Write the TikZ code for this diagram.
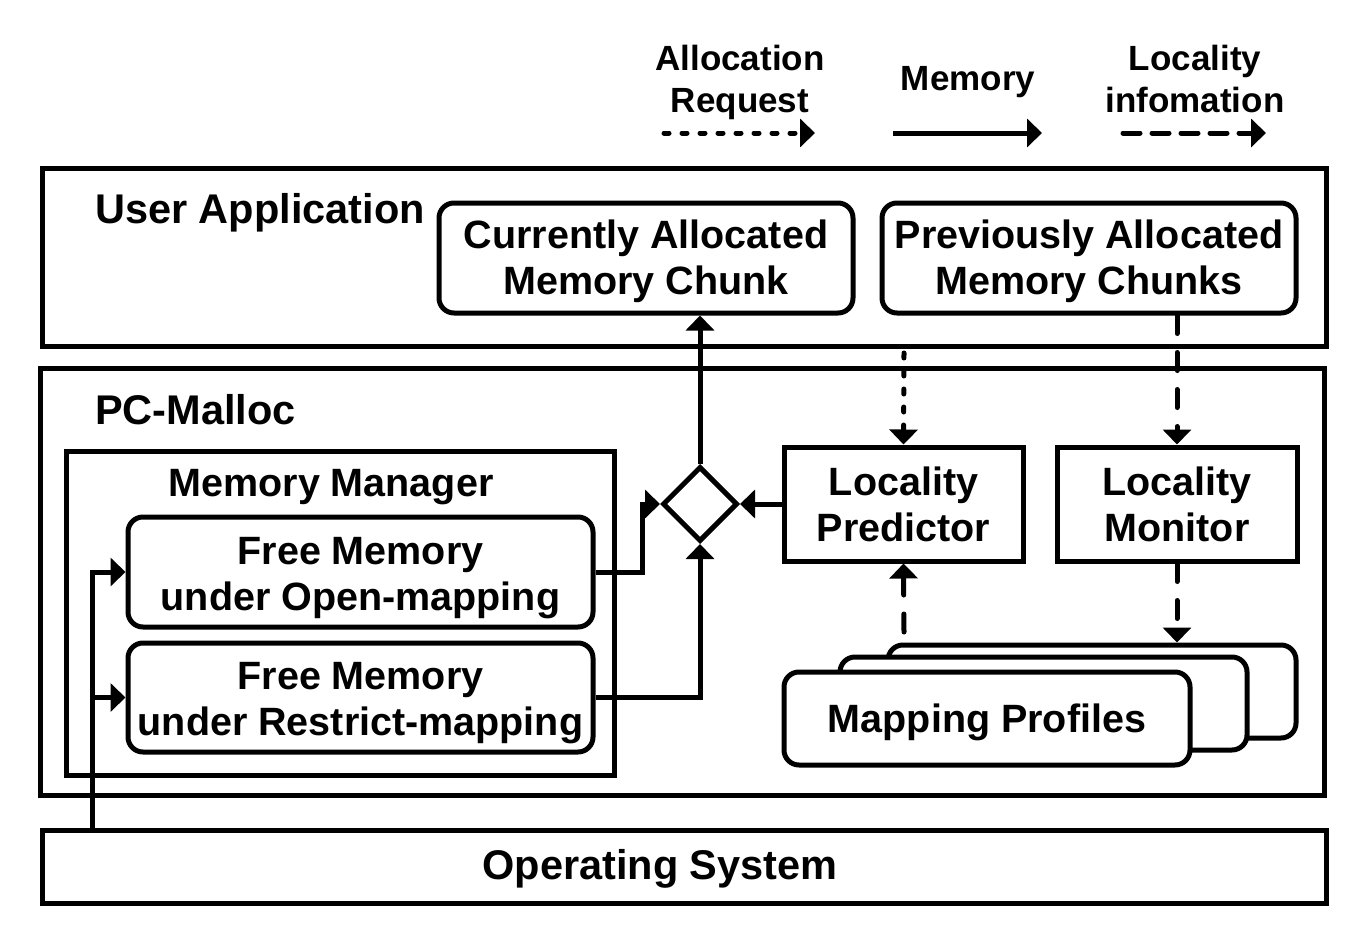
\documentclass[tikz,border=0pt]{standalone}
\usepackage{fontspec}
\setmainfont{Liberation Sans}
\usetikzlibrary{arrows.meta,shapes.geometric,calc}
\newcommand\bfbody{\fontsize{39.5}{46}\selectfont\bfseries}
\newcommand\bftitle{\fontsize{41.5}{48}\selectfont\bfseries}
\newcommand\bflegend{\fontsize{35}{42}\selectfont\bfseries}
\begin{document}
\begin{tikzpicture}[x=1pt,y=-1pt,
  lw/.style={line width=5pt},
  sq/.style={draw,lw,inner sep=0pt,align=center,font=\bfbody},
  rb/.style={sq,rounded corners=15pt,fill=white},
  tip/.style={-{Triangle[length=15pt,width=28pt]}},
  mem/.style={lw,tip},
  req/.style={lw,tip,dash pattern=on 5pt off 13pt,line cap=round},
  loc/.style={lw,tip,dash pattern=on 18pt off 19pt,line cap=round},
  loclg/.style={lw,tip,dash pattern=on 17pt off 12pt,line cap=round},
  txt/.style={inner sep=0pt,align=center},
]
\useasboundingbox (0,0) rectangle (1365,942);
% legend
\node[txt,font=\bflegend,anchor=base] (lgreq) at (740,112) {Allocation\\Request};
\node[txt,font=\bflegend,anchor=base] (lgmem) at (968,90) {Memory};
\node[txt,font=\bflegend,anchor=base] (lgloc) at (1195,112) {Locality\\infomation};
\coordinate (r1) at (664,133); \coordinate (r2) at (815,133);
\coordinate (m1) at (893,133); \coordinate (m2) at (1042,133);
\coordinate (l1) at (1123,133); \coordinate (l2) at (1266,133);
\draw[req] (r1) -- (r2);
\draw[mem] (m1) -- (m2);
\draw[loclg] (l1) -- (l2);
% layers
\node[sq,minimum width=1284,minimum height=178] (app) at (684,257) {};
\node[sq,minimum width=1284,minimum height=427] (pcm) at (682,581.5) {};
\node[sq,minimum width=1284,minimum height=73] (os) at (684,866.5) {};
\node[txt,font=\bftitle,anchor=base west] (apptxt) at (95,223) {User Application};
\node[txt,font=\bftitle,anchor=base west] (pcmtxt) at (95,424) {PC-Malloc};
\node[txt,font=\bftitle,anchor=base] (ostxt) at (660,879) {Operating System};
% memory manager
\node[sq,minimum width=548,minimum height=324] (mm) at (340,613) {};
\node[txt,font=\bfbody,anchor=base] (mmtxt) at (331,496) {Memory Manager};
\node[rb,minimum width=465,minimum height=110] (open) at (360.5,572) {};
\node[txt,font=\bfbody,anchor=base] (opentxt) at (360.5,610) {Free Memory\\under Open-mapping};
\node[rb,minimum width=465,minimum height=109] (restr) at (360.5,697.5) {};
\node[txt,font=\bfbody,anchor=base] (restrtxt) at (360.5,735) {Free Memory\\under Restrict-mapping};
% user app chunks
\node[rb,minimum width=414,minimum height=110] (cur) at (646,258) {};
\node[txt,font=\bfbody,anchor=base] (curtxt) at (646,294) {Currently Allocated\\Memory Chunk};
\node[rb,minimum width=414,minimum height=110] (prev) at (1089,258) {};
\node[txt,font=\bfbody,anchor=base] (prevtxt) at (1089,294) {Previously Allocated\\Memory Chunks};
% locality
\node[sq,minimum width=239,minimum height=114] (pred) at (903.5,504) {};
\node[txt,font=\bfbody,anchor=base] (predtxt) at (903.5,541) {Locality\\Predictor};
\node[sq,minimum width=240,minimum height=114] (mon) at (1177,504) {};
\node[txt,font=\bfbody,anchor=base] (montxt) at (1177,541) {Locality\\Monitor};
% mapping profiles
\node[rb,minimum width=408,minimum height=93] (back) at (1092,691.5) {};
\node[rb,minimum width=407,minimum height=93] (mid) at (1043.5,703.5) {};
\node[rb,minimum width=406,minimum height=93] (front) at (987,718.5) {};
\node[txt,font=\bfbody,anchor=base] (fronttxt) at (987,732) {Mapping Profiles};
% diamond
\node[draw,lw,diamond,aspect=1,inner sep=0pt,minimum width=75,minimum height=75] (dia) at (700,504) {};
% memory connectors
\draw[mem] (open.east) -- ++(47,0) |- (dia.west);
\draw[mem] (restr.east) -| (dia.south);
\draw[mem] (pred.west) -- (dia.east);
\draw[mem] (dia.north) -- (dia.north |- cur.south);
\coordinate (osout) at (92,830);
\draw[mem] (osout) |- (open.west);
\draw[mem] (osout) |- (restr.west);
% request / locality connectors
\coordinate (reqstart) at (904,353);
\draw[req] (reqstart) -- (pred.north);
\draw[loc] (mon.north |- prev.south) -- (mon.north);
\draw[loc] (mon.south) -- (mon.south |- back.north);
\coordinate (pstart) at (904,632);
\draw[loc] (pstart) -- (pred.south);
\end{tikzpicture}
\end{document}
